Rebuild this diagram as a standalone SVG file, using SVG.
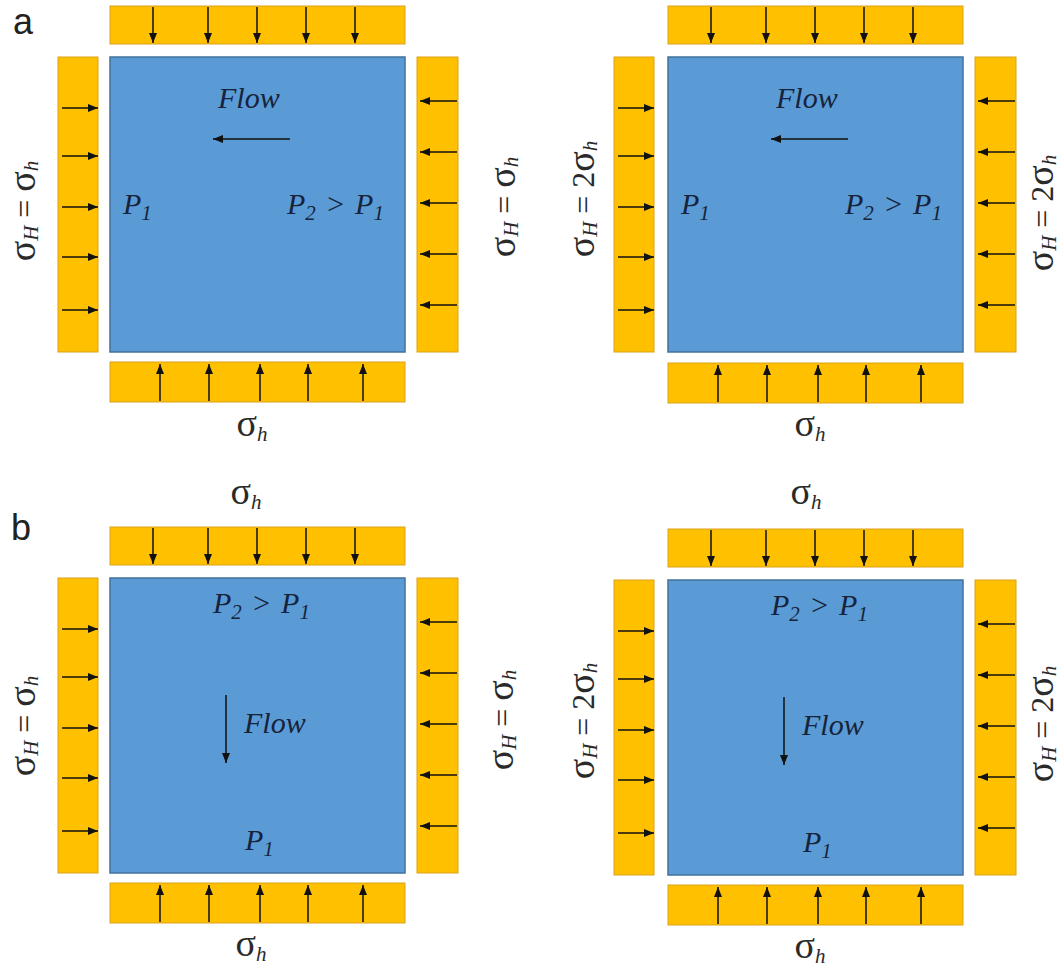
<svg xmlns="http://www.w3.org/2000/svg" width="1062" height="973" viewBox="0 0 1062 973">
<style>
.bar{fill:#FFC000;stroke:#D9A21B;stroke-width:1}
.blk{fill:#5B9BD5;stroke:#41719C;stroke-width:1.5}
.ar{stroke:#111;stroke-width:1.5;fill:none;marker-end:url(#ah)}
.in{font-family:"Liberation Serif",serif;font-style:italic;font-size:30px;fill:#16233b}
.sg{font-family:"Liberation Serif",serif;font-size:32px;fill:#2a2a2a}
.s{font-size:38px}
.sub{font-size:21px;font-style:italic}
.lt{font-family:"Liberation Sans",sans-serif;font-size:36px;fill:#222}
</style>
<defs>
<marker id="ah" viewBox="0 0 10 8" refX="10" refY="4" markerWidth="10" markerHeight="8" markerUnits="userSpaceOnUse" orient="auto"><path d="M0,0L10,4L0,8z" fill="#111"/></marker>
</defs>
<rect width="1062" height="973" fill="#fff"/>
<text class="lt" x="13" y="34">a</text>
<text class="lt" x="11" y="540">b</text>

<!-- Panel a-left -->
<g id="panel-a-left">
<rect id="aL-top" class="bar" x="110" y="6" width="295" height="38"/>
<rect id="aL-left" class="bar" x="58" y="57" width="40" height="295"/>
<rect id="aL-right" class="bar" x="417" y="57" width="41" height="295"/>
<rect id="aL-bottom" class="bar" x="110" y="362" width="295" height="40"/>
<rect id="aL-block" class="blk" x="110" y="57" width="295" height="295"/>
<g id="aL-connectors">
<line class="ar" x1="153" y1="7" x2="153" y2="43"/><line class="ar" x1="208" y1="7" x2="208" y2="43"/><line class="ar" x1="257" y1="7" x2="257" y2="43"/><line class="ar" x1="306" y1="7" x2="306" y2="43"/><line class="ar" x1="355" y1="7" x2="355" y2="43"/>
<line class="ar" x1="160" y1="401" x2="160" y2="364"/><line class="ar" x1="209" y1="401" x2="209" y2="364"/><line class="ar" x1="260" y1="401" x2="260" y2="364"/><line class="ar" x1="308" y1="401" x2="308" y2="364"/><line class="ar" x1="363" y1="401" x2="363" y2="364"/>
<line class="ar" x1="62" y1="108" x2="98" y2="108"/><line class="ar" x1="62" y1="156" x2="98" y2="156"/><line class="ar" x1="62" y1="207" x2="98" y2="207"/><line class="ar" x1="62" y1="257" x2="98" y2="257"/><line class="ar" x1="62" y1="310" x2="98" y2="310"/>
<line class="ar" x1="457" y1="101" x2="420" y2="101"/><line class="ar" x1="457" y1="152" x2="420" y2="152"/><line class="ar" x1="457" y1="203" x2="420" y2="203"/><line class="ar" x1="457" y1="254" x2="420" y2="254"/><line class="ar" x1="457" y1="305" x2="420" y2="305"/>
<line class="ar" x1="290" y1="139" x2="213" y2="139"/>
</g>
<text class="in" x="218" y="108">Flow</text>
<text class="in" x="123" y="214">P<tspan class="sub" dy="6">1</tspan></text>
<text class="in" x="287" y="214">P<tspan class="sub" dy="6">2</tspan><tspan dy="-6" dx="2"> &gt; </tspan><tspan dx="2">P</tspan><tspan class="sub" dy="6">1</tspan></text>
<text class="sg" transform="translate(35,211) rotate(-90)" text-anchor="middle"><tspan class="s">σ</tspan><tspan class="sub" dy="3">H</tspan><tspan dy="-3"> = </tspan><tspan class="s">σ</tspan><tspan class="sub" dy="3">h</tspan></text>
<text class="sg" transform="translate(515,207) rotate(-90)" text-anchor="middle"><tspan class="s">σ</tspan><tspan class="sub" dy="3">H</tspan><tspan dy="-3"> = </tspan><tspan class="s">σ</tspan><tspan class="sub" dy="3">h</tspan></text>
<text class="sg" x="252" y="436" text-anchor="middle"><tspan class="s">σ</tspan><tspan class="sub" dy="5">h</tspan></text>
</g>

<!-- Panel a-right -->
<g id="panel-a-right">
<rect id="aR-top" class="bar" x="668" y="6" width="295" height="38"/>
<rect id="aR-left" class="bar" x="614" y="57" width="40" height="295"/>
<rect id="aR-right" class="bar" x="975" y="57" width="41" height="295"/>
<rect id="aR-bottom" class="bar" x="668" y="363" width="295" height="40"/>
<rect id="aR-block" class="blk" x="668" y="57" width="295" height="295"/>
<g id="aR-connectors">
<line class="ar" x1="711" y1="7" x2="711" y2="43"/><line class="ar" x1="766" y1="7" x2="766" y2="43"/><line class="ar" x1="815" y1="7" x2="815" y2="43"/><line class="ar" x1="864" y1="7" x2="864" y2="43"/><line class="ar" x1="913" y1="7" x2="913" y2="43"/>
<line class="ar" x1="718" y1="402" x2="718" y2="365"/><line class="ar" x1="767" y1="402" x2="767" y2="365"/><line class="ar" x1="818" y1="402" x2="818" y2="365"/><line class="ar" x1="866" y1="402" x2="866" y2="365"/><line class="ar" x1="921" y1="402" x2="921" y2="365"/>
<line class="ar" x1="618" y1="108" x2="654" y2="108"/><line class="ar" x1="618" y1="156" x2="654" y2="156"/><line class="ar" x1="618" y1="207" x2="654" y2="207"/><line class="ar" x1="618" y1="257" x2="654" y2="257"/><line class="ar" x1="618" y1="310" x2="654" y2="310"/>
<line class="ar" x1="1015" y1="101" x2="978" y2="101"/><line class="ar" x1="1015" y1="152" x2="978" y2="152"/><line class="ar" x1="1015" y1="203" x2="978" y2="203"/><line class="ar" x1="1015" y1="254" x2="978" y2="254"/><line class="ar" x1="1015" y1="305" x2="978" y2="305"/>
<line class="ar" x1="848" y1="139" x2="771" y2="139"/>
</g>
<text class="in" x="776" y="108">Flow</text>
<text class="in" x="681" y="214">P<tspan class="sub" dy="6">1</tspan></text>
<text class="in" x="845" y="214">P<tspan class="sub" dy="6">2</tspan><tspan dy="-6" dx="2"> &gt; </tspan><tspan dx="2">P</tspan><tspan class="sub" dy="6">1</tspan></text>
<text class="sg" transform="translate(594,199) rotate(-90)" text-anchor="middle"><tspan class="s">σ</tspan><tspan class="sub" dy="3">H</tspan><tspan dy="-3"> = 2</tspan><tspan class="s">σ</tspan><tspan class="sub" dy="3">h</tspan></text>
<text class="sg" transform="translate(1053,213) rotate(-90)" text-anchor="middle"><tspan class="s">σ</tspan><tspan class="sub" dy="3">H</tspan><tspan dy="-3"> = 2</tspan><tspan class="s">σ</tspan><tspan class="sub" dy="3">h</tspan></text>
<text class="sg" x="810" y="436" text-anchor="middle"><tspan class="s">σ</tspan><tspan class="sub" dy="5">h</tspan></text>
</g>

<!-- Panel b-left -->
<g id="panel-b-left">
<rect id="bL-top" class="bar" x="110" y="527" width="295" height="38"/>
<rect id="bL-left" class="bar" x="58" y="578" width="40" height="295"/>
<rect id="bL-right" class="bar" x="417" y="578" width="41" height="295"/>
<rect id="bL-bottom" class="bar" x="110" y="883" width="295" height="40"/>
<rect id="bL-block" class="blk" x="110" y="578" width="295" height="295"/>
<g id="bL-connectors">
<line class="ar" x1="153" y1="528" x2="153" y2="564"/><line class="ar" x1="208" y1="528" x2="208" y2="564"/><line class="ar" x1="257" y1="528" x2="257" y2="564"/><line class="ar" x1="306" y1="528" x2="306" y2="564"/><line class="ar" x1="355" y1="528" x2="355" y2="564"/>
<line class="ar" x1="160" y1="922" x2="160" y2="885"/><line class="ar" x1="209" y1="922" x2="209" y2="885"/><line class="ar" x1="260" y1="922" x2="260" y2="885"/><line class="ar" x1="308" y1="922" x2="308" y2="885"/><line class="ar" x1="363" y1="922" x2="363" y2="885"/>
<line class="ar" x1="62" y1="629" x2="98" y2="629"/><line class="ar" x1="62" y1="677" x2="98" y2="677"/><line class="ar" x1="62" y1="728" x2="98" y2="728"/><line class="ar" x1="62" y1="778" x2="98" y2="778"/><line class="ar" x1="62" y1="831" x2="98" y2="831"/>
<line class="ar" x1="457" y1="622" x2="420" y2="622"/><line class="ar" x1="457" y1="673" x2="420" y2="673"/><line class="ar" x1="457" y1="724" x2="420" y2="724"/><line class="ar" x1="457" y1="775" x2="420" y2="775"/><line class="ar" x1="457" y1="826" x2="420" y2="826"/>
<line class="ar" x1="226" y1="695" x2="226" y2="763"/>
</g>
<text class="in" x="213" y="613">P<tspan class="sub" dy="6">2</tspan><tspan dy="-6" dx="2"> &gt; </tspan><tspan dx="2">P</tspan><tspan class="sub" dy="6">1</tspan></text>
<text class="in" x="244" y="733">Flow</text>
<text class="in" x="245" y="850">P<tspan class="sub" dy="6">1</tspan></text>
<text class="sg" x="246" y="504" text-anchor="middle"><tspan class="s">σ</tspan><tspan class="sub" dy="5">h</tspan></text>
<text class="sg" transform="translate(35,726) rotate(-90)" text-anchor="middle"><tspan class="s">σ</tspan><tspan class="sub" dy="3">H</tspan><tspan dy="-3"> = </tspan><tspan class="s">σ</tspan><tspan class="sub" dy="3">h</tspan></text>
<text class="sg" transform="translate(513,720) rotate(-90)" text-anchor="middle"><tspan class="s">σ</tspan><tspan class="sub" dy="3">H</tspan><tspan dy="-3"> = </tspan><tspan class="s">σ</tspan><tspan class="sub" dy="3">h</tspan></text>
<text class="sg" x="251" y="956" text-anchor="middle"><tspan class="s">σ</tspan><tspan class="sub" dy="5">h</tspan></text>
</g>

<!-- Panel b-right -->
<g id="panel-b-right">
<rect id="bR-top" class="bar" x="668" y="529" width="295" height="38"/>
<rect id="bR-left" class="bar" x="614" y="580" width="40" height="295"/>
<rect id="bR-right" class="bar" x="975" y="580" width="41" height="295"/>
<rect id="bR-bottom" class="bar" x="668" y="885" width="295" height="40"/>
<rect id="bR-block" class="blk" x="668" y="580" width="295" height="295"/>
<g id="bR-connectors">
<line class="ar" x1="711" y1="530" x2="711" y2="566"/><line class="ar" x1="766" y1="530" x2="766" y2="566"/><line class="ar" x1="815" y1="530" x2="815" y2="566"/><line class="ar" x1="864" y1="530" x2="864" y2="566"/><line class="ar" x1="913" y1="530" x2="913" y2="566"/>
<line class="ar" x1="718" y1="924" x2="718" y2="887"/><line class="ar" x1="767" y1="924" x2="767" y2="887"/><line class="ar" x1="818" y1="924" x2="818" y2="887"/><line class="ar" x1="866" y1="924" x2="866" y2="887"/><line class="ar" x1="921" y1="924" x2="921" y2="887"/>
<line class="ar" x1="618" y1="631" x2="654" y2="631"/><line class="ar" x1="618" y1="679" x2="654" y2="679"/><line class="ar" x1="618" y1="730" x2="654" y2="730"/><line class="ar" x1="618" y1="780" x2="654" y2="780"/><line class="ar" x1="618" y1="833" x2="654" y2="833"/>
<line class="ar" x1="1015" y1="624" x2="978" y2="624"/><line class="ar" x1="1015" y1="675" x2="978" y2="675"/><line class="ar" x1="1015" y1="726" x2="978" y2="726"/><line class="ar" x1="1015" y1="777" x2="978" y2="777"/><line class="ar" x1="1015" y1="828" x2="978" y2="828"/>
<line class="ar" x1="784" y1="697" x2="784" y2="765"/>
</g>
<text class="in" x="771" y="615">P<tspan class="sub" dy="6">2</tspan><tspan dy="-6" dx="2"> &gt; </tspan><tspan dx="2">P</tspan><tspan class="sub" dy="6">1</tspan></text>
<text class="in" x="802" y="735">Flow</text>
<text class="in" x="803" y="852">P<tspan class="sub" dy="6">1</tspan></text>
<text class="sg" x="806" y="504" text-anchor="middle"><tspan class="s">σ</tspan><tspan class="sub" dy="5">h</tspan></text>
<text class="sg" transform="translate(594,721) rotate(-90)" text-anchor="middle"><tspan class="s">σ</tspan><tspan class="sub" dy="3">H</tspan><tspan dy="-3"> = 2</tspan><tspan class="s">σ</tspan><tspan class="sub" dy="3">h</tspan></text>
<text class="sg" transform="translate(1053,724) rotate(-90)" text-anchor="middle"><tspan class="s">σ</tspan><tspan class="sub" dy="3">H</tspan><tspan dy="-3"> = 2</tspan><tspan class="s">σ</tspan><tspan class="sub" dy="3">h</tspan></text>
<text class="sg" x="810" y="958" text-anchor="middle"><tspan class="s">σ</tspan><tspan class="sub" dy="5">h</tspan></text>
</g>
</svg>
